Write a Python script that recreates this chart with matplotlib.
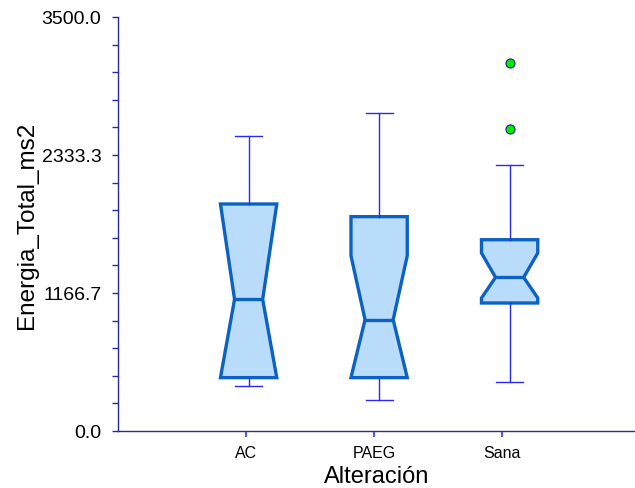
import numpy as np
import matplotlib.pyplot as plt
from matplotlib.ticker import FixedLocator, MultipleLocator, FormatStrFormatter

plt.rcParams["font.family"] = ["Liberation Sans", "DejaVu Sans"]

GROUPS = ["AC", "PAEG", "Sana"]
WHISKER_LOW = [378, 259, 417]
Q1 = [451, 451, 1082]
MEDIAN = [1113, 941, 1299]
Q3 = [1919, 1812, 1617]
WHISKER_HIGH = [2494, 2686, 2246]
NOTCH_LOW = [451, 451, 1124]
NOTCH_HIGH = [1919, 1482, 1505]
OUTLIERS = [[], [], [2553, 3111]]

Y_MAX = 3500.0
SPINE = "#2a2aa0"

stats = []
for i, name in enumerate(GROUPS):
    stats.append({
        "label": name,
        "whislo": WHISKER_LOW[i],
        "q1": Q1[i],
        "med": MEDIAN[i],
        "q3": Q3[i],
        "whishi": WHISKER_HIGH[i],
        "cilo": NOTCH_LOW[i],
        "cihi": NOTCH_HIGH[i],
        "fliers": np.array(OUTLIERS[i]),
    })

fig = plt.figure(figsize=(6.35, 4.89), dpi=100)
ax = fig.add_axes([0.186, 0.1166, 0.814, 0.8466])

ax.bxp(
    stats,
    positions=[1.02, 2.04, 3.06],
    widths=0.44,
    capwidths=0.21,
    shownotches=True,
    patch_artist=True,
    boxprops=dict(facecolor="#b9dcfb", edgecolor="#0c62c2", linewidth=2.4),
    medianprops=dict(color="#0c62c2", linewidth=2.4),
    whiskerprops=dict(color="#2a2af0", linewidth=1.0),
    capprops=dict(color="#2a2af0", linewidth=1.0),
    flierprops=dict(marker="o", markersize=6.5, markerfacecolor="#00ee00",
                    markeredgecolor="#1a1a90", markeredgewidth=0.8),
)

ax.set_xlim(0, 4.04)
ax.set_ylim(0, Y_MAX)
ax.yaxis.set_major_locator(FixedLocator(np.linspace(0, Y_MAX, 4)))
ax.yaxis.set_minor_locator(MultipleLocator(Y_MAX / 15))
ax.yaxis.set_major_formatter(FormatStrFormatter("%.1f"))
ax.set_xticks([1, 2, 3])
ax.set_xticklabels(GROUPS)

for side in ["top", "right"]:
    ax.spines[side].set_visible(False)
for side in ["left", "bottom"]:
    ax.spines[side].set_color(SPINE)
    ax.spines[side].set_linewidth(1.0)

ax.tick_params(axis="y", which="both", length=4, width=1, color=SPINE,
               labelsize=14, pad=8)
ax.tick_params(axis="x", length=4, width=1.5, color="#5a5ac8",
               labelsize=11.5, pad=6)

ax.set_xlabel("Alteración", fontsize=17, labelpad=4)
ax.set_ylabel("Energia_Total_ms2", fontsize=17.5, labelpad=3)

fig.savefig("out.png", dpi=100)
